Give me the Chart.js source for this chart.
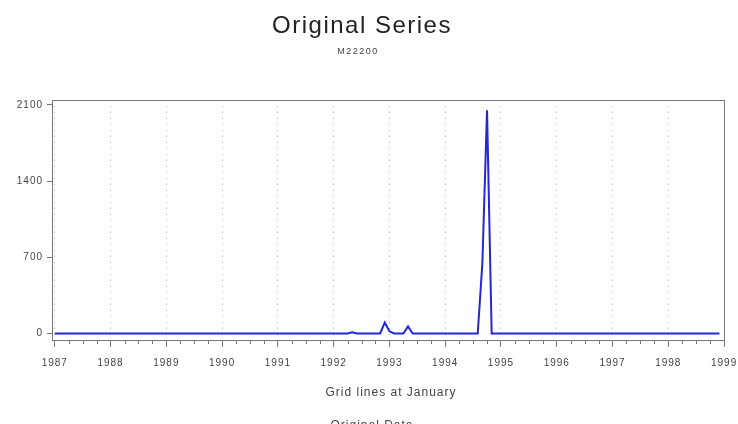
<!DOCTYPE html>
<html>
<head>
<meta charset="utf-8">
<script src="https://cdn.jsdelivr.net/npm/chart.js@4/dist/chart.umd.min.js"></script>
<style>
  html, body { margin: 0; padding: 0; background: #fff; }
  #wrap { width: 738px; height: 424px; }
</style>
</head>
<body>
<div id="wrap"><canvas id="chart"></canvas></div>
<script>
// monthly series Jan 1987 .. Dec 1998 (index 0 = Jan 1987)
const yearLabels = ['1987', '1988', '1989', '1990', '1991', '1992', '1993', '1994', '1995', '1996', '1997', '1998', '1999'];
const seriesValues = [
    0, 0, 0, 0, 0, 0, 0, 0, 0, 0, 0, 0,      // 1987
    0, 0, 0, 0, 0, 0, 0, 0, 0, 0, 0, 0,      // 1988
    0, 0, 0, 0, 0, 0, 0, 0, 0, 0, 0, 0,      // 1989
    0, 0, 0, 0, 0, 0, 0, 0, 0, 0, 0, 0,      // 1990
    0, 0, 0, 0, 0, 0, 0, 0, 0, 0, 0, 0,      // 1991
    0, 0, 0, 0, 10, 0, 0, 0, 0, 0, 0, 100,   // 1992
    20, 0, 0, 0, 65, 0, 0, 0, 0, 0, 0, 0,    // 1993
    0, 0, 0, 0, 0, 0, 0, 0, 650, 2050, 0, 0, // 1994
    0, 0, 0, 0, 0, 0, 0, 0, 0, 0, 0, 0,      // 1995
    0, 0, 0, 0, 0, 0, 0, 0, 0, 0, 0, 0,      // 1996
    0, 0, 0, 0, 0, 0, 0, 0, 0, 0, 0, 0,      // 1997
    0, 0, 0, 0, 0, 0, 0, 0, 0, 0, 0, 0       // 1998
];
const yTickValues = [0, 700, 1400, 2100];

const points = seriesValues.map((v, i) => ({ x: i, y: v }));
const textColor = '#444';
const fontFam = '"Liberation Sans", Arial, sans-serif';

// wider letter spacing for the axis labels (SAS style)
const spacing = {
    id: 'spacing',
    beforeUpdate(chart) { chart.ctx.letterSpacing = '1px'; },
    beforeDraw(chart) { chart.ctx.letterSpacing = '1px'; }
};

// titles, frame, minor ticks
const decor = {
    id: 'decor',
    afterDraw(chart) {
        const ctx = chart.ctx;
        const a = chart.chartArea;
        const xs = chart.scales.x;
        ctx.save();
        // frame
        ctx.strokeStyle = '#777';
        ctx.lineWidth = 1;
        ctx.strokeRect(a.left + 0.5, a.top + 0.5, a.right - a.left - 1, a.bottom - a.top);
        // quarterly minor ticks
        ctx.beginPath();
        for (let m = 0; m <= 144; m += 3) {
            if (m % 12 === 0) continue;
            const px = Math.round(xs.getPixelForValue(m)) + 0.5;
            ctx.moveTo(px, a.bottom);
            ctx.lineTo(px, a.bottom + 4);
        }
        ctx.stroke();
        // texts
        ctx.textAlign = 'center';
        ctx.textBaseline = 'middle';
        ctx.fillStyle = '#222';
        ctx.letterSpacing = '1.5px';
        ctx.font = '24px ' + fontFam;
        ctx.fillText('Original Series', 362, 26);
        ctx.fillStyle = textColor;
        ctx.font = '9px ' + fontFam;
        ctx.fillText('M22200', 358, 52);
        ctx.letterSpacing = '1px';
        ctx.font = '12px ' + fontFam;
        ctx.fillText('Grid lines at January', 391, 393);
        ctx.textBaseline = 'top';
        ctx.fillText('Original Data', 372, 420);
        ctx.restore();
    }
};

const chart = new Chart(document.getElementById('chart'), {
    type: 'line',
    data: {
        datasets: [{
            label: 'M22200',
            data: points,
            borderColor: '#2626d6',
            borderWidth: 2,
            pointRadius: 0,
            tension: 0,
            fill: false
        }]
    },
    options: {
        responsive: true,
        maintainAspectRatio: false,
        animation: false,
        layout: { padding: { left: 0, right: 13, top: 100, bottom: 0 } },
        plugins: {
            legend: { display: false },
            tooltip: { enabled: false },
            title: { display: false }
        },
        scales: {
            x: {
                type: 'linear',
                min: -0.6,
                max: 144.2,
                afterBuildTicks: (scale) => {
                    scale.ticks = yearLabels.map((_, i) => ({ value: i * 12 }));
                },
                afterFit: (scale) => {
                    scale.height = 84;
                    scale.paddingLeft = 0;
                    scale.paddingRight = 0;
                },
                grid: {
                    color: '#bbbbbb',
                    lineWidth: 1,
                    drawTicks: true,
                    tickLength: 7,
                    tickColor: '#777',
                    tickBorderDash: []
                },
                border: { display: false, dash: [1, 5] },
                ticks: {
                    autoSkip: false,
                    maxRotation: 0,
                    padding: 10,
                    color: textColor,
                    font: { size: 10, family: fontFam },
                    callback: (v) => yearLabels[Math.round(v / 12)]
                }
            },
            y: {
                min: -60,
                max: 2145,
                afterBuildTicks: (scale) => {
                    scale.ticks = yTickValues.map(v => ({ value: v }));
                },
                afterFit: (scale) => { scale.width = 52; },
                grid: {
                    drawOnChartArea: false,
                    tickLength: 5,
                    tickColor: '#777'
                },
                border: { display: false },
                ticks: {
                    padding: 4,
                    color: textColor,
                    font: { size: 10, family: fontFam },
                    callback: (v) => String(v)
                }
            }
        }
    },
    plugins: [spacing, decor]
});
</script>
</body>
</html>
